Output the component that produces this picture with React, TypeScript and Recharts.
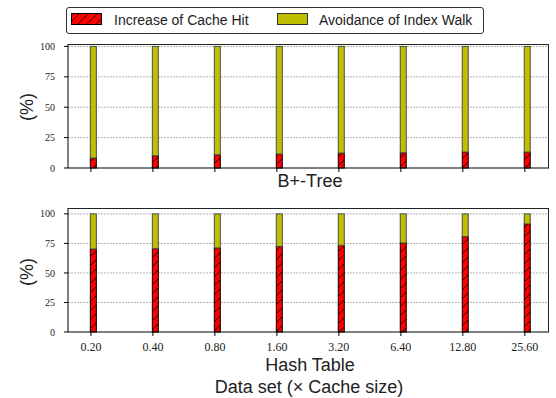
import React from "react";
import { BarChart, Bar, XAxis, YAxis, CartesianGrid } from "recharts";

// data set size, in multiples of the cache size
const sizes = ["0.20", "0.40", "0.80", "1.60", "3.20", "6.40", "12.80", "25.60"];

// B+-Tree (%)
const treeCacheHit = [8.2, 10.1, 10.9, 11.5, 12.3, 12.6, 13.1, 13.1];
const treeIndexWalk = [91.8, 89.9, 89.1, 88.5, 87.7, 87.4, 86.9, 86.9];

// Hash Table (%)
const hashCacheHit = [70.3, 70.6, 71.2, 72.5, 73.4, 75.4, 80.8, 91.5];
const hashIndexWalk = [29.7, 29.4, 28.8, 27.5, 26.6, 24.6, 19.2, 8.5];

const yTicks = [0, 25, 50, 75, 100];
const seriesNames = ["Increase of Cache Hit", "Avoidance of Index Walk"];

const RED = "#ff0000";
const YELLOW = "#bfbf00";
const SANS = "'Liberation Sans', sans-serif";
const SERIF = "'Liberation Serif', serif";
const X_DOMAIN: [number, number] = [-0.37, 7.39];

const toRows = (hit: number[], walk: number[]) =>
  sizes.map((s, i) => ({ idx: i, label: s, hit: hit[i], walk: walk[i] }));

const treeRows = toRows(treeCacheHit, treeIndexWalk);
const hashRows = toRows(hashCacheHit, hashIndexWalk);
const xTicks = sizes.map((_, i) => i);

const hatchShape = (patternId: string) => (props: any) => {
  const { x, y, width, height } = props;
  if (!height || height <= 0) return <g />;
  return (
    <rect
      x={x + width * 0.4}
      y={y}
      width={width}
      height={height}
      fill={`url(#${patternId})`}
      stroke="#000"
      strokeWidth={1}
    />
  );
};

const plainShape = (props: any) => {
  const { x, y, width, height } = props;
  if (!height || height <= 0) return <g />;
  return (
    <rect
      x={x + width * 0.4}
      y={y}
      width={width}
      height={height}
      fill={YELLOW}
      stroke="#4d4d4d"
      strokeWidth={1}
    />
  );
};

const HatchDef = ({ id }: { id: string }) => (
  <pattern id={id} patternUnits="userSpaceOnUse" width={9} height={9}>
    <rect width={9} height={9} fill={RED} />
    <path d="M0,9 L9,0 M-2,2 L2,-2 M7,11 L11,7" stroke="#000" strokeWidth={0.8} />
  </pattern>
);

interface PanelProps {
  rows: any[];
  yMax: number;
  patternId: string;
  showLabels: boolean;
  height: number;
  margin: { top: number; right: number; left: number; bottom: number };
}

const Panel = ({ rows, yMax, patternId, showLabels, height, margin }: PanelProps) => (
  <BarChart width={556} height={height} data={rows} margin={margin}>
    <defs>
      <HatchDef id={patternId} />
    </defs>
    <CartesianGrid
      vertical={false}
      stroke="#b3b3b3"
      strokeDasharray="2 1"
      horizontalCoordinatesGenerator={({ offset }: any) =>
        yTicks
          .filter((t) => t > 0)
          .map((t) => offset.top + offset.height * (1 - t / yMax))
      }
    />
    <XAxis
      dataKey="idx"
      type="number"
      domain={X_DOMAIN}
      ticks={xTicks}
      allowDataOverflow
      height={30}
      tickSize={4}
      tickMargin={6}
      stroke="#000"
      tick={{ fill: "#222", fontSize: 12, fontFamily: SERIF }}
      tickFormatter={(v: number) => (showLabels ? sizes[v] : "")}
    />
    <YAxis
      type="number"
      domain={[0, yMax]}
      ticks={yTicks}
      width={68}
      tickSize={4}
      tickMargin={9}
      stroke="#000"
      tick={{ fill: "#222", fontSize: 10, fontFamily: SERIF }}
    />
    <Bar
      dataKey="hit"
      stackId="a"
      barSize={6}
      name={seriesNames[0]}
      shape={hatchShape(patternId)}
      isAnimationActive={false}
    />
    <Bar
      dataKey="walk"
      stackId="a"
      barSize={6}
      name={seriesNames[1]}
      shape={plainShape}
      isAnimationActive={false}
    />
  </BarChart>
);

// plot frame (top and right spines)
const Frame = ({ top }: { top: number }) => (
  <div
    style={{
      position: "absolute",
      left: 68,
      top,
      width: 480,
      height: 123,
      borderTop: "1px solid #222",
      borderRight: "1px solid #222",
      pointerEvents: "none",
    }}
  />
);

const Text = ({ x, y, size, children, rotate }: any) => (
  <div
    style={{
      position: "absolute",
      left: x,
      top: y,
      transform: `translate(-50%, -50%)${rotate ? " rotate(-90deg)" : ""}`,
      fontFamily: SANS,
      fontSize: size,
      lineHeight: 1,
      color: "#222",
      whiteSpace: "nowrap",
    }}
  >
    {children}
  </div>
);

const LegendBox = () => (
  <div
    style={{
      position: "absolute",
      left: 66,
      top: 7,
      width: 416,
      height: 25,
      border: "1px solid #333",
      borderRadius: 3,
      background: "#fff",
      fontFamily: SANS,
      fontSize: 14,
      color: "#222",
    }}
  >
    <svg style={{ position: "absolute", left: 4, top: 5 }} width={32} height={13}>
      <defs>
        <HatchDef id="hatchLegend" />
      </defs>
      <rect x={0.5} y={0.5} width={30} height={11} fill="url(#hatchLegend)" stroke="#000" />
    </svg>
    <div style={{ position: "absolute", left: 47, top: 4, lineHeight: "16px" }}>{seriesNames[0]}</div>
    <svg style={{ position: "absolute", left: 210, top: 5 }} width={32} height={13}>
      <rect x={0.5} y={0.5} width={30} height={11} fill={YELLOW} stroke="#333" />
    </svg>
    <div style={{ position: "absolute", left: 252, top: 4, lineHeight: "16px" }}>{seriesNames[1]}</div>
  </div>
);

export default function App() {
  return (
    <div style={{ position: "absolute", left: 0, top: 0, width: 556, height: 398, background: "#fff" }}>
      <div style={{ position: "absolute", left: 0, top: 0 }}>
        <Panel
          rows={treeRows}
          yMax={102}
          patternId="hatchTree"
          showLabels={false}
          height={200}
          margin={{ top: 44, right: 7, left: 0, bottom: 2 }}
        />
      </div>
      <div style={{ position: "absolute", left: 0, top: 176 }}>
        <Panel
          rows={hashRows}
          yMax={105}
          patternId="hatchHash"
          showLabels={true}
          height={222}
          margin={{ top: 32, right: 7, left: 0, bottom: 36 }}
        />
      </div>
      <Frame top={44} />
      <Frame top={208} />
      <LegendBox />
      <Text x={27} y={107} size={18} rotate>(%)</Text>
      <Text x={27} y={272} size={18} rotate>(%)</Text>
      <Text x={310} y={181} size={18}>B+-Tree</Text>
      <Text x={310} y={365} size={18}>Hash Table</Text>
      <Text x={309} y={387} size={18}>Data set (× Cache size)</Text>
    </div>
  );
}
